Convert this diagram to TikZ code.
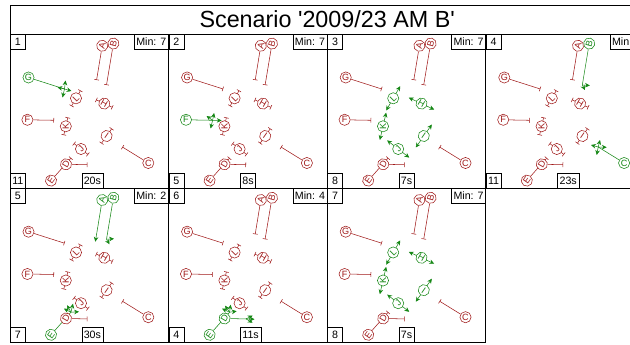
\documentclass[tikz,border=0pt]{standalone}
\usepackage{fontspec}
\setmainfont{Liberation Sans}
\usetikzlibrary{arrows.meta,calc}
\pgfdeclarelayer{paper}
\pgfdeclarelayer{background}
\pgfsetlayers{paper,background,main}

\definecolor{stopred}{RGB}{160,25,25}
\definecolor{gogreen}{RGB}{20,135,20}

\tikzset{every picture/.style={line width=0.65pt}}
\tikzset{
	sig/.style={circle,draw=stopred,text=stopred,fill=white,inner sep=0pt,minimum size=8.4pt,font=\fontsize{6.8}{7}\selectfont},
	sgo/.style={draw=gogreen,text=gogreen},
	sA/.style={},sB/.style={},sC/.style={},sD/.style={},sE/.style={},sF/.style={},
	sG/.style={},sH/.style={},sI/.style={},sJ/.style={},sK/.style={},sL/.style={},
	stopline/.style={stopred,-{Bar[width=3.6pt]}},
	pedbar/.style={stopred,{Bar[width=3.6pt]}-{Bar[width=3.6pt]}},
	pedgo/.style={gogreen,{Stealth[length=3.6pt,width=3.4pt]}-{Stealth[length=3.6pt,width=3.4pt]}},
	goline/.style={gogreen},
	gotip/.style={gogreen,-{Stealth[length=3.6pt,width=3.4pt]}},
	lbl/.style={draw,fill=white,inner sep=1.5pt,minimum height=10.9pt,minimum width=11.25pt,font=\fontsize{8}{9}\selectfont},
	panel/.style={draw,line width=0.7pt}
}

% frame and corner boxes of one stage panel
\newcommand{\panelbox}[4]{%
	\draw[panel] (0,0) rectangle (158.6,154.2);
	\node[lbl,anchor=north west] (num) at (0,0) {#1};
	\node[lbl,anchor=north east] (min) at (158.6,0) {Min: #2};
	\node[lbl,anchor=south west] (stage) at (0,154.2) {#3};
	\node[lbl,anchor=south west] (time) at (71.5,154.2) {#4};
}

% the twelve signal groups of the junction
\newcommand{\streams}{%
	\node[sig,sA,rotate=75]  (A) at (92.2,11.8)  {A};
	\node[sig,sB,rotate=75]  (B) at (103.4,9.6)  {B};
	\node[sig,sC]            (C) at (138.3,129)  {C};
	\node[sig,sD,rotate=60]  (D) at (56,130.3)   {D};
	\node[sig,sE,rotate=55]  (E) at (41,146.6)   {E};
	\node[sig,sF]            (F) at (17.4,85.8)  {F};
	\node[sig,sG]            (G) at (18.5,43.5)  {G};
	\node[sig,sH,rotate=-30] (H) at (94.3,69.6)  {H};
	\node[sig,sI,rotate=-35] (I) at (96.6,102)   {I};
	\node[sig,sJ,rotate=45]  (J) at (71,115)     {J};
	\node[sig,sK,rotate=90]  (K) at (55.8,92.3)  {K};
	\node[sig,sL,rotate=45]  (L) at (66,64.3)    {L};
	\coordinate (A-s) at (86.6,46);
	\coordinate (B-s) at (96.5,51);
	\coordinate (C-s) at (112.4,113);
	\coordinate (D-s) at (77.4,130.7);
	\coordinate (E-s) at (61,124);
	\coordinate (F-s) at (44,86.3);
	\coordinate (G-s) at (54.5,55);
}

\newcommand{\stopat}[1]{\draw[stopline] (#1) -- (#1-s);}
\newcommand{\peds}[2]{%
	\foreach \p/\a in {H/25,I/-55,J/38,K/-77,L/-60}
		\draw[#1] ($(\p)+(\a:-#2)$) -- ($(\p)+(\a:#2)$);}

\begin{document}
\begin{tikzpicture}[x=0.75pt,y=0.75pt,yscale=-1,xscale=1]
	\begin{pgfonlayer}{paper}
		\fill[white] (0,0) rectangle (630,345);
	\end{pgfonlayer}
	\path[use as bounding box] (0,0) rectangle (630,345);
	\clip (0,0) rectangle (630,345);

	% Title
	\draw[panel] (10,5) rectangle (644.4,34);
	\node[font=\fontsize{17.5}{20}\selectfont] (title) at (327.2,19.5) {Scenario \textquotesingle 2009/23 AM B\textquotesingle};

	% Stage 1
	\begin{scope}[shift={(10,34)},name prefix=p1-,sG/.style={sgo}]
		\panelbox{1}{7}{11}{20s}
		\streams
		\begin{pgfonlayer}{background}
			\foreach \s in {A,B,C,D,E,F} {\stopat{\s}}
			\peds{pedbar}{9}
			\draw[goline] (G) -- (G-s);
			\foreach \x/\y in {61.5/57,55.5/46.5,52.5/63.5,47.5/53.3}
				\draw[gotip] (G-s) -- (\x,\y);
		\end{pgfonlayer}
	\end{scope}

	% Stage 2
	\begin{scope}[shift={(168.6,34)},name prefix=p2-,sF/.style={sgo}]
		\panelbox{2}{7}{5}{8s}
		\streams
		\begin{pgfonlayer}{background}
			\foreach \s in {A,B,C,D,E,G} {\stopat{\s}}
			\peds{pedbar}{9}
			\draw[goline] (F) -- (F-s);
			\foreach \x/\y in {53/86.5,45.5/79,42/94.5,38/82}
				\draw[gotip] (F-s) -- (\x,\y);
		\end{pgfonlayer}
	\end{scope}

	% Stage 3
	\begin{scope}[shift={(327.2,34)},name prefix=p3-,
		sH/.style={sgo},sI/.style={sgo},sJ/.style={sgo},sK/.style={sgo},sL/.style={sgo}]
		\panelbox{3}{7}{8}{7s}
		\streams
		\begin{pgfonlayer}{background}
			\foreach \s in {A,B,C,D,E,F,G} {\stopat{\s}}
			\peds{pedgo}{14}
		\end{pgfonlayer}
	\end{scope}

	% Stage 4
	\begin{scope}[shift={(485.8,34)},name prefix=p4-,sB/.style={sgo},sC/.style={sgo}]
		\panelbox{4}{7}{11}{23s}
		\streams
		\begin{pgfonlayer}{background}
			\foreach \s in {A,D,E,F,G} {\stopat{\s}}
			\peds{pedbar}{9}
			\draw[goline] (B) -- (B-s);
			\foreach \x/\y in {104/51.5,99/56}
				\draw[gotip] (B-s) -- (\x,\y);
			\draw[goline] (C) -- (C-s);
			\foreach \x/\y in {114.2/106,110.9/121,105.2/111,120.9/113.3}
				\draw[gotip] (C-s) -- (\x,\y);
		\end{pgfonlayer}
	\end{scope}

	% Stage 5
	\begin{scope}[shift={(10,188.2)},name prefix=p5-,sA/.style={sgo},sB/.style={sgo},sE/.style={sgo}]
		\panelbox{5}{2}{7}{30s}
		\streams
		\begin{pgfonlayer}{background}
			\foreach \s in {C,D,F,G} {\stopat{\s}}
			\peds{pedbar}{9}
			\draw[goline] (A) -- (A-s);
			\draw[gotip] (A-s) -- (85.3,53.5);
			\draw[goline] (B) -- (B-s);
			\foreach \x/\y in {104/50.5,99.5/56}
				\draw[gotip] (B-s) -- (\x,\y);
			\draw[goline] (E) -- (E-s);
			\foreach \x/\y in {57/117,63/115.5,69/123.5,54/120.5}
				\draw[gotip] (E-s) -- (\x,\y);
		\end{pgfonlayer}
	\end{scope}

	% Stage 6
	\begin{scope}[shift={(168.6,188.2)},name prefix=p6-,sD/.style={sgo},sE/.style={sgo}]
		\panelbox{6}{4}{4}{11s}
		\streams
		\begin{pgfonlayer}{background}
			\foreach \s in {A,B,C,F,G} {\stopat{\s}}
			\peds{pedbar}{9}
			\draw[goline] (D) -- (D-s);
			\foreach \x/\y in {86/131,84/127.5,84/134.5}
				\draw[gotip] (D-s) -- (\x,\y);
			\draw[goline] (E) -- (E-s);
			\foreach \x/\y in {56.5/117.5,62/116.5,68/123,53.5/120.5}
				\draw[gotip] (E-s) -- (\x,\y);
		\end{pgfonlayer}
	\end{scope}

	% Stage 7
	\begin{scope}[shift={(327.2,188.2)},name prefix=p7-,
		sH/.style={sgo},sI/.style={sgo},sJ/.style={sgo},sK/.style={sgo},sL/.style={sgo}]
		\panelbox{7}{7}{8}{7s}
		\streams
		\begin{pgfonlayer}{background}
			\foreach \s in {A,B,C,D,E,F,G} {\stopat{\s}}
			\peds{pedgo}{14}
		\end{pgfonlayer}
	\end{scope}

\end{tikzpicture}
\end{document}
